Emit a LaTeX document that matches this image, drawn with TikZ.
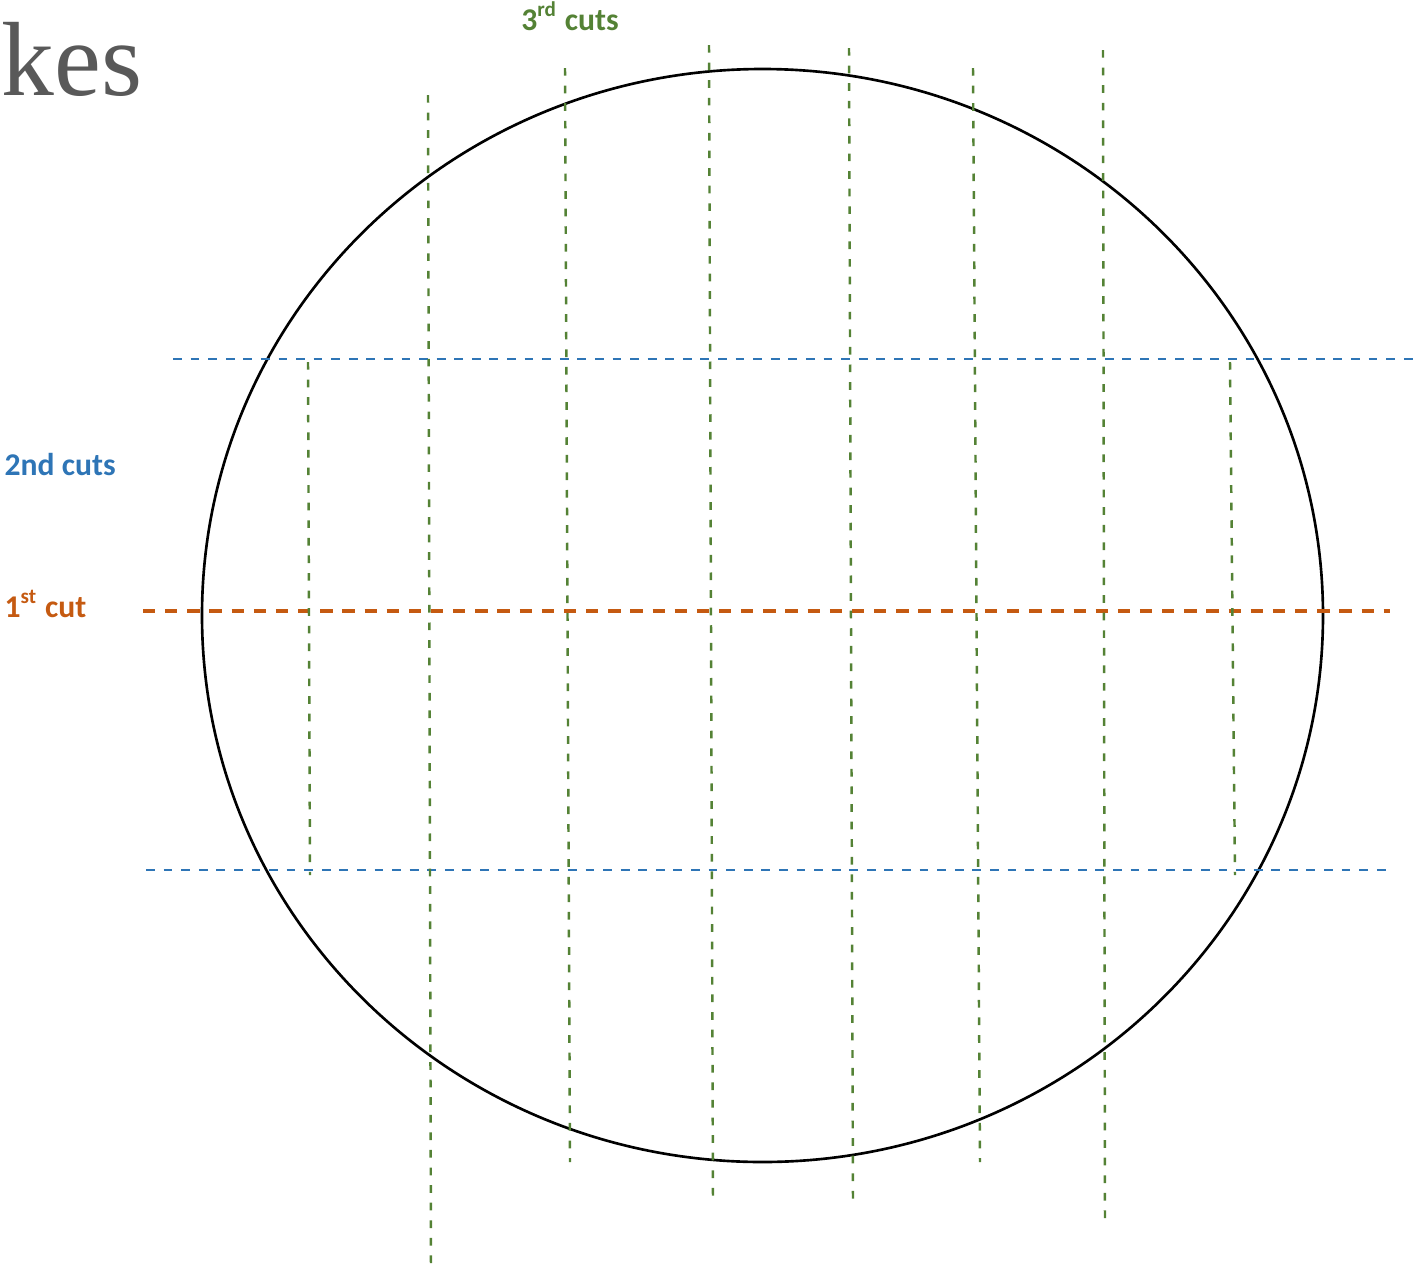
\documentclass[tikz,border=0pt]{standalone}
\usepackage{fontspec}
\setmainfont{Liberation Serif}
\newfontfamily\labelfont{Carlito}
\tikzset{
  px/.style={x={(0.01cm,0cm)}, y={(0cm,-0.01cm)}},
  wafer/.style={black, line width=0.75pt},
  cutone/.style={draw={rgb,255:red,197;green,90;blue,17}, line width=0.9pt, dash pattern=on 3.5pt off 2.8pt},
  cuttwo/.style={draw={rgb,255:red,46;green,117;blue,182}, line width=0.7pt, dash pattern=on 2.5pt off 2.5pt},
  cutthree/.style={draw={rgb,255:red,84;green,130;blue,53}, line width=0.7pt, dash pattern=on 2.2pt off 2.8pt},
  lbl/.style={font=\labelfont\bfseries\fontsize{9}{11}\selectfont, inner sep=0pt},
}
\begin{document}
\begin{tikzpicture}[px]
  \useasboundingbox (0,0) rectangle (1420,1272);

  % --- title fragment at the upper left ---
  \node[anchor=south west, inner sep=0pt, text={rgb,255:red,89;green,89;blue,89},
        font=\fontsize{30}{36}\selectfont] (title) at (1,97) {kes};

  % --- wafer outline ---
  \draw[wafer] (762.5,615.5) ellipse [x radius=560.5, y radius=546.5];

  % --- 1st cut (orange) ---
  \draw[cutone] (143,611) -- (1390,611);

  % --- 2nd cuts (blue) ---
  \draw[cuttwo] (173,359) -- (1420,359);
  \draw[cuttwo] (146,870) -- (1393,870);

  % --- 3rd cuts (green), top x / top y / bottom x / bottom y ---
  \foreach \xa/\ya/\xb/\yb in {428/95/431/1270, 565/68/570/1162, 709/45/713/1200,
                               849/48/853/1200, 973/68/980/1162, 1103/50/1105/1225,
                               308/362/310/875, 1230/362/1235/875}
    \draw[cutthree] (\xa,\ya) -- (\xb,\yb);

  % --- labels ---
  \node[lbl, text={rgb,255:red,84;green,130;blue,53}] (third) at (570,16) {3\textsuperscript{rd} cuts};
  \node[lbl, text={rgb,255:red,46;green,117;blue,182}, anchor=west] (second) at (4,465) {2nd cuts};
  \node[lbl, text={rgb,255:red,197;green,90;blue,17}, anchor=west] (first) at (4,604) {1\textsuperscript{st} cut};
\end{tikzpicture}
\end{document}
